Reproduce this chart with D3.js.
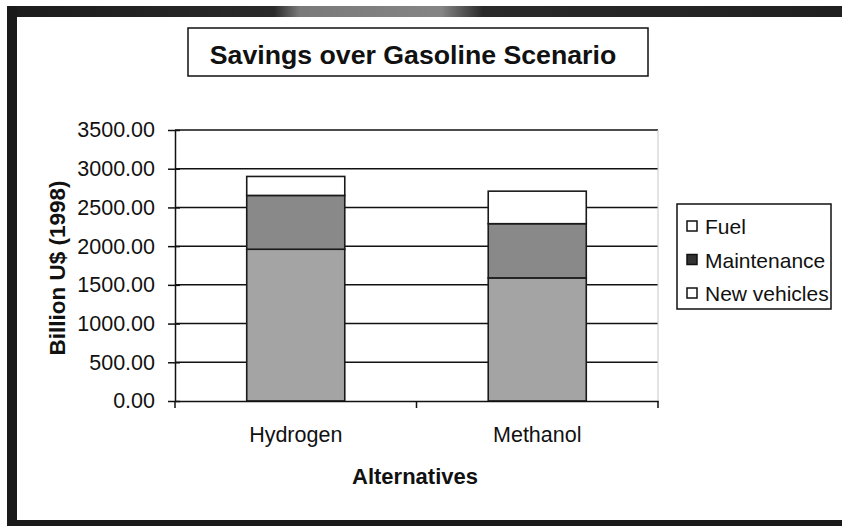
<!DOCTYPE html>
<html>
<head>
<meta charset="utf-8">
<script src="https://cdn.jsdelivr.net/npm/d3@7"></script>
<style>
  html, body { margin: 0; padding: 0; background: #fff; }
  svg { display: block; }
  text { font-family: Arial, "Liberation Sans", sans-serif; fill: #111; }
</style>
</head>
<body>
<div id="chart"></div>
<script>
// Savings over gasoline scenario, billion US$ (1998), stacked by cost component
const categories = ["Hydrogen", "Methanol"];
const seriesNames = ["New vehicles", "Maintenance", "Fuel"];
const newVehicles = [1960, 1590];
const maintenance = [695, 700];
const fuel = [245, 420];
const yTicks = [0, 500, 1000, 1500, 2000, 2500, 3000, 3500];
const legendOrder = ["Fuel", "Maintenance", "New vehicles"];

const W = 842, H = 526;
const plot = { left: 175, right: 658, top: 130, bottom: 401 };

const svg = d3.select("#chart").append("svg")
  .attr("width", W).attr("height", H);

// Outer frame (dark border on top, left and bottom)
const grad = svg.append("defs").append("linearGradient")
  .attr("id", "topband").attr("x1", "0").attr("x2", "1");
[[0, "#1c1c1c"], [0.32, "#2a2a2a"], [0.35, "#7a7a7a"], [0.52, "#858585"], [0.57, "#2a2a2a"], [1, "#202020"]]
  .forEach(([o, c]) => grad.append("stop").attr("offset", o).attr("stop-color", c));
svg.append("rect").attr("x", 7).attr("y", 6).attr("width", W - 7).attr("height", 11).attr("fill", "url(#topband)");
svg.append("rect").attr("x", 7).attr("y", 6).attr("width", 10).attr("height", H - 6).attr("fill", "#1a1a1a");
svg.append("rect").attr("x", 7).attr("y", 520).attr("width", W - 7).attr("height", 6).attr("fill", "#1a1a1a");

// Scales
const x = d3.scaleBand().domain(categories)
  .range([plot.left, plot.right]).paddingInner(0.594).paddingOuter(0.297);
const y = d3.scaleLinear().domain([0, 3500]).range([plot.bottom, plot.top]);

// Gridlines
svg.append("g").selectAll("line").data(yTicks.filter(d => d > 0)).join("line")
  .attr("x1", plot.left).attr("x2", plot.right)
  .attr("y1", d => y(d)).attr("y2", d => y(d))
  .attr("stroke", "#111").attr("stroke-width", 1.5);
svg.append("line").attr("x1", plot.right).attr("x2", plot.right)
  .attr("y1", plot.top).attr("y2", plot.bottom)
  .attr("stroke", "#c8c8c8").attr("stroke-width", 1);

// Stacked bars
const rows = categories.map((c, i) => ({
  cat: c, "New vehicles": newVehicles[i], "Maintenance": maintenance[i], "Fuel": fuel[i]
}));
const stack = d3.stack().keys(seriesNames)(rows);
const fills = { "New vehicles": "#a4a4a4", "Maintenance": "#898989", "Fuel": "#ffffff" };

svg.append("g").selectAll("g").data(stack).join("g")
  .attr("fill", d => fills[d.key])
  .selectAll("rect").data(d => d).join("rect")
  .attr("x", d => x(d.data.cat))
  .attr("width", x.bandwidth())
  .attr("y", d => y(d[1]))
  .attr("height", d => y(d[0]) - y(d[1]))
  .attr("stroke", "#1a1a1a").attr("stroke-width", 1.6);

// Y axis
const yAxis = svg.append("g").attr("transform", `translate(${plot.left},0)`)
  .call(d3.axisLeft(y).tickValues(yTicks).tickFormat(d3.format(".2f")).tickSize(0).tickPadding(20));
yAxis.select(".domain").attr("stroke", "#111").attr("stroke-width", 1.5);
yAxis.selectAll(".tick text").attr("font-size", 21.5).attr("fill", "#111")
  .attr("font-family", "Arial, 'Liberation Sans', sans-serif");
yAxis.selectAll(".tick").append("line")
  .attr("x1", -7).attr("x2", 5).attr("stroke", "#111").attr("stroke-width", 1.5);

// X axis
const xAxis = svg.append("g").attr("transform", `translate(0,${plot.bottom})`)
  .call(d3.axisBottom(x).tickSize(0).tickPadding(26));
xAxis.select(".domain").attr("stroke", "#111").attr("stroke-width", 1.5);
xAxis.selectAll(".tick text").attr("font-size", 21.5).attr("fill", "#111")
  .attr("font-family", "Arial, 'Liberation Sans', sans-serif");
const step = x.step();
const xTickPos = [plot.left, plot.left + step, plot.right];
xAxis.append("g").selectAll("line").data(xTickPos).join("line")
  .attr("x1", d => d).attr("x2", d => d).attr("y1", 0).attr("y2", 7)
  .attr("stroke", "#111").attr("stroke-width", 1.5);

// Axis titles
svg.append("text").attr("x", 415).attr("y", 484)
  .attr("text-anchor", "middle").attr("font-size", 22).attr("font-weight", "bold")
  .text("Alternatives");
svg.append("text").attr("transform", "translate(65,268) rotate(-90)")
  .attr("text-anchor", "middle").attr("font-size", 22.5).attr("font-weight", "bold")
  .text("Billion U$ (1998)");

// Title box
svg.append("rect").attr("x", 188).attr("y", 28).attr("width", 460).attr("height", 48)
  .attr("fill", "#fff").attr("stroke", "#111").attr("stroke-width", 1.5);
svg.append("text").attr("x", 413).attr("y", 64).attr("text-anchor", "middle")
  .attr("font-size", 26.7).attr("font-weight", "bold")
  .text("Savings over Gasoline Scenario");

// Legend
const legend = svg.append("g");
legend.append("rect").attr("x", 677).attr("y", 204).attr("width", 154).attr("height", 105)
  .attr("fill", "#fff").attr("stroke", "#111").attr("stroke-width", 1.5);
const legendFill = { "Fuel": "#fff", "Maintenance": "#333", "New vehicles": "#fff" };
const ly = d3.scalePoint().domain(legendOrder).range([226, 293]);
const items = legend.selectAll("g.item").data(legendOrder).join("g").attr("class", "item")
  .attr("transform", d => `translate(687,${ly(d)})`);
items.append("rect").attr("x", 0).attr("y", -5).attr("width", 10).attr("height", 10)
  .attr("fill", d => legendFill[d]).attr("stroke", "#111").attr("stroke-width", 1.5);
items.append("text").attr("x", 18).attr("y", 8).attr("font-size", 21).text(d => d);
</script>
</body>
</html>
